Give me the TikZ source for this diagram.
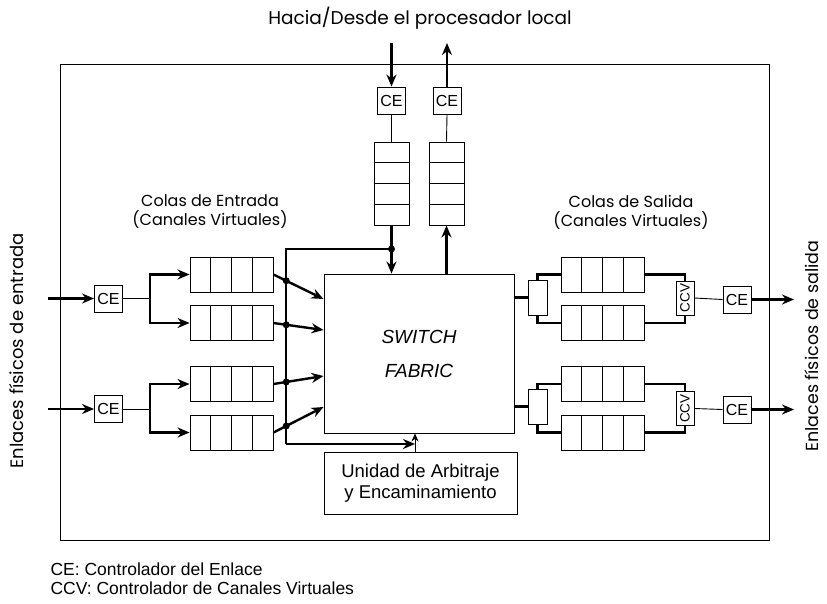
\documentclass[tikz,border=0pt]{standalone}
\usepackage{fontspec}
\setmainfont{Liberation Sans}
\newfontfamily\gothic{Poppins}
\usetikzlibrary{arrows.meta,calc}
\begin{document}
\begin{tikzpicture}[x=1pt,y=-1pt,
 ln/.style={line width=0.9pt},
 thk/.style={line width=2.4pt},
 arr/.style={-{Stealth[length=12pt,width=10pt]}},
 box/.style={draw,line width=0.9pt,inner sep=0pt},
 ce/.style={box,minimum width=28pt,minimum height=27pt,font=\fontsize{16}{17}\selectfont},
 hq/.style={box,minimum width=83pt,minimum height=35pt},
 vq/.style={box,minimum width=35pt,minimum height=83pt},
 dm/.style={box,minimum width=19pt,minimum height=35pt},
 ccv/.style={box,minimum width=18pt,minimum height=34pt},
 dot/.style={circle,fill,inner sep=0pt,minimum size=7pt},
 lbl/.style={font=\gothic\fontsize{16}{19}\selectfont,align=center},
]
\useasboundingbox (0,0) rectangle (827,603);
% outer frame
\node[box,anchor=north west,minimum width=709pt,minimum height=476pt] (outer) at (60,64) {};
% switch fabric and arbiter
\node[box,minimum width=190pt,minimum height=159pt,font=\itshape\fontsize{19}{34}\selectfont,align=center] (sw) at (419,353.5) {SWITCH\\FABRIC};
\node[box,minimum width=193pt,minimum height=62pt,font=\fontsize{18.5}{21}\selectfont,align=center] (arb) at (420.5,483) {Unidad de Arbitraje\\y Encaminamiento};
% top CE and queues
\node[ce] (cet1) at (391.5,100.5) {CE};
\node[ce] (cet2) at (447,100.5) {CE};
\node[vq] (tq1) at (391.5,183.5) {};
\node[vq] (tq2) at (446.5,183.5) {};
\foreach \q in {tq1,tq2}{
  \foreach \f in {0.25,0.5,0.75}{
    \draw[ln] ($(\q.north west)!\f!(\q.south west)$) -- ($(\q.north east)!\f!(\q.south east)$);
  }
}
% input side
\node[ce] (cei1) at (108.5,298.5) {CE};
\node[ce] (cei2) at (108.5,409) {CE};
\node[hq] (iq1) at (231.5,274.5) {};
\node[hq] (iq2) at (231.5,323) {};
\node[hq] (iq3) at (231.5,384) {};
\node[hq] (iq4) at (231.5,432.5) {};
% output side
\node[hq] (oq1) at (602.5,274.5) {};
\node[hq] (oq2) at (602.5,323) {};
\node[hq] (oq3) at (602.5,384) {};
\node[hq] (oq4) at (602.5,432.5) {};
\foreach \q in {iq1,iq2,iq3,iq4,oq1,oq2,oq3,oq4}{
  \foreach \f in {0.25,0.5,0.75}{
    \draw[ln] ($(\q.north west)!\f!(\q.north east)$) -- ($(\q.south west)!\f!(\q.south east)$);
  }
}
\node[dm] (dm1) at (537.5,297.5) {};
\node[dm] (dm2) at (537.5,406.5) {};
\node[ccv] (ccv1) at (685,298) {};
\node[ccv] (ccv2) at (685,408.5) {};
\node[rotate=90,font=\fontsize{13.5}{14}\selectfont] at (ccv1) {CCV};
\node[rotate=90,font=\fontsize{13.5}{14}\selectfont] at (ccv2) {CCV};
\node[ce] (ceo1) at (737,299.5) {CE};
\node[ce] (ceo2) at (737,409.5) {CE};
% coordinates for free ends
\coordinate (tin) at (391.5,43);
\coordinate (tout) at (447,43);
\coordinate (lin1) at (48,298.5);
\coordinate (lin2) at (48,409);
\coordinate (rout1) at (794,299.5);
\coordinate (rout2) at (794,409.5);
\coordinate (br1) at (150,298.5);
\coordinate (br2) at (150,409);
\coordinate (busTL) at (286,249);
\coordinate (busBL) at (286,444);
\coordinate (arbx) at (415,444);
% top connections
\draw[thk,arr] (tin) -- (cet1.north);
\draw[ln] (cet1.south) -- (tq1.north);
\draw[thk,arr] (tq1.south) -- (tq1.south |- sw.north);
\draw[thk,arr] (cet2.north) -- (tout);
\draw[ln] (cet2.south) -- (tq2.north);
\draw[thk,arr] (tq2.south |- sw.north) -- (tq2.south);
% control bus
\draw[thk] (tq1.south |- busTL) -- (busTL) -- (busBL);
\draw[thk,arr] (busBL) -- (arbx);
\node[dot] at (tq1.south |- busTL) {};
\draw[ln,-{Stealth[length=8pt,width=7pt]}] (arb.north -| arbx) -- (sw.south -| arbx);
% input links
\draw[thk,arr] (lin1) -- (cei1.west);
\draw[thk,arr] (lin2) -- (cei2.west);
\draw[ln] (cei1.east) -- (br1);
\draw[ln] (cei2.east) -- (br2);
\draw[thk,arr] (br1) |- (iq1.west);
\draw[thk,arr] (br1) |- (iq2.west);
\draw[thk,arr] (br2) |- (iq3.west);
\draw[thk,arr] (br2) |- (iq4.west);
% queue outputs into switch
\foreach \q/\ty in {iq1/299,iq2/330,iq3/376,iq4/407}{
  \draw[thk,arr] (\q.east) -- (sw.west |- 0,\ty);
  \node[dot] at ($(\q.east)!0.255!(sw.west |- 0,\ty)$) {};
}
% output side connections
\draw[thk] (sw.east |- dm1) -- (dm1.west);
\draw[thk] (sw.east |- dm2) -- (dm2.west);
\draw[thk] (dm1.north) |- (oq1.west);
\draw[thk] (dm1.south) |- (oq2.west);
\draw[thk] (dm2.north) |- (oq3.west);
\draw[thk] (dm2.south) |- (oq4.west);
\draw[thk] (oq1.east) -| (ccv1.north);
\draw[thk] (oq2.east) -| (ccv1.south);
\draw[thk] (oq3.east) -| (ccv2.north);
\draw[thk] (oq4.east) -| (ccv2.south);
\draw[ln] (ccv1.east) -- (ceo1.west);
\draw[ln] (ccv2.east) -- (ceo2.west);
\draw[thk,arr] (ceo1.east) -- (rout1);
\draw[thk,arr] (ceo2.east) -- (rout2);
% labels
\node[lbl,font=\gothic\fontsize{18.5}{20}\selectfont] (ttop) at (420,18) {Hacia/Desde el procesador local};
\node[lbl] (tin2) at (210,212) {Colas de Entrada\\(Canales Virtuales)};
\node[lbl] (tout2) at (631,212) {Colas de Salida\\(Canales Virtuales)};
\node[lbl,rotate=90,inner sep=0pt,font=\gothic\fontsize{18}{20}\selectfont] (tleft) at (17,351) {Enlaces físicos de entrada};
\node[lbl,rotate=90,inner sep=0pt,font=\gothic\fontsize{17.5}{20}\selectfont] (tright) at (812,346) {Enlaces físicos de salida};
\node[anchor=west,font=\fontsize{17.5}{19}\selectfont] (leg1) at (47,569) {CE: Controlador del Enlace};
\node[anchor=west,font=\fontsize{17.5}{19}\selectfont] (leg2) at (47,588) {CCV: Controlador de Canales Virtuales};
\end{tikzpicture}
\end{document}
